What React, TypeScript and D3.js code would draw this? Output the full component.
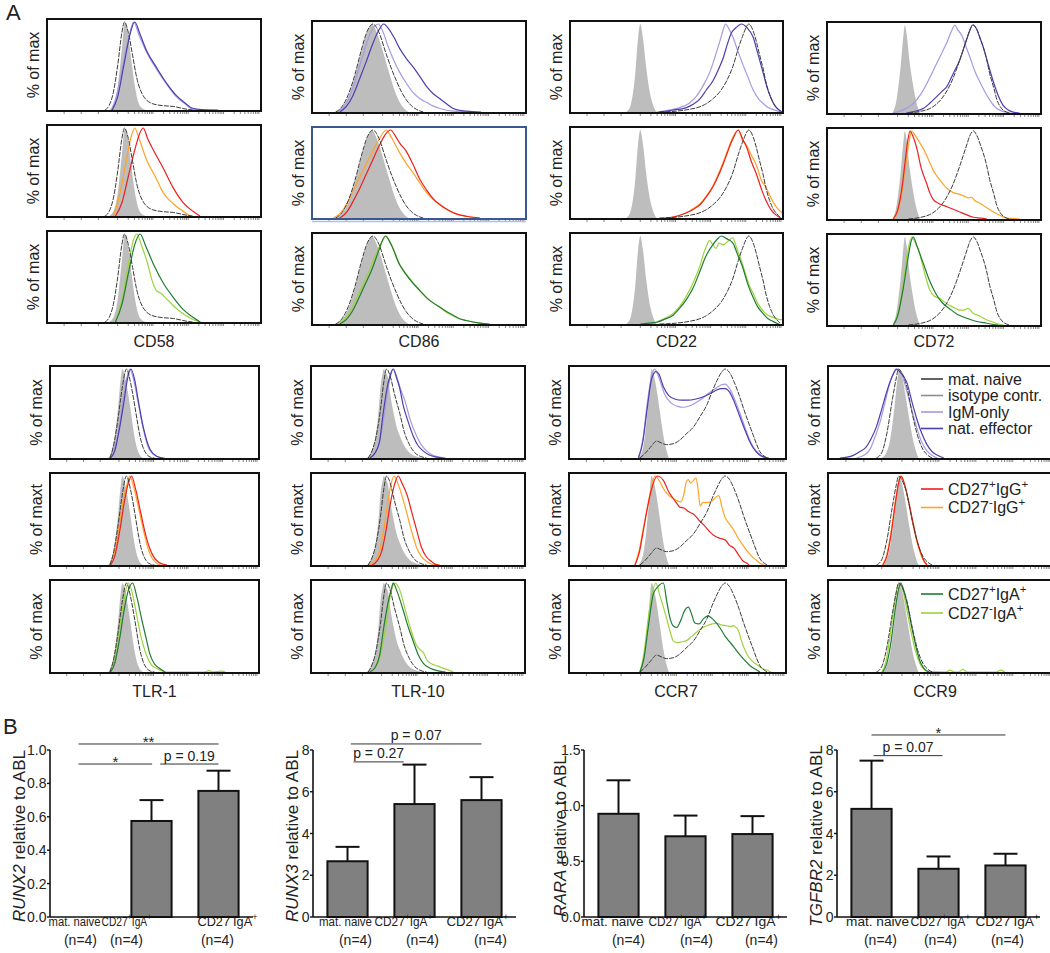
import React from 'react';
import * as d3 from 'd3';

type Pt = [number, number];

// ---------------- Panel A : categories / labels ----------------
const TOP_MARKERS = ['CD58', 'CD86', 'CD22', 'CD72'];
const BOTTOM_MARKERS = ['TLR-1', 'TLR-10', 'CCR7', 'CCR9'];
const Y_LABELS_TOP = ['% of max', '% of max', '% of max'];
const Y_LABELS_BOTTOM = ['% of max', '% of maxt', '% of max'];
const LEGEND_ROW1 = ['mat. naive', 'isotype contr.', 'IgM-only', 'nat. effector'];
const LEGEND_ROW2 = ['CD27^+IgG^+', 'CD27^-IgG^+'];
const LEGEND_ROW3 = ['CD27^+IgA^+', 'CD27^-IgA^+'];

// ---------------- Histogram curves: [x (% of panel width), y (% of max)] ----------------
const CD58_ISO: Pt[] = [[29,0],[31,5],[33,25],[35,70],[36.4,100],[38,85],[39.5,55],[41,28],[42.5,10],[44,3],[46,0]];
const CD58_NAIVE: Pt[] = [[27,0],[29,5],[31,20],[33,50],[35,88],[36.2,100],[38,88],[40,62],[41.9,37],[45,16],[49.5,7],[54,5],[59,4],[65,1],[68,0]];
const CD58_IGM: Pt[] = [[30,0],[32,12],[35,45],[38,80],[40.5,100],[43,85],[46.5,66],[51,47],[56,29],[60.5,15],[64.5,7],[68,1],[75,0]];
const CD58_NATEFF: Pt[] = [[30.5,0],[33,15],[36,52],[39,88],[41,100],[43.5,86],[46.6,67],[51,49],[56,30],[60.6,16],[64.5,8],[68,2],[72,0.5],[80,0]];
const CD58_IGG_POS: Pt[] = [[32,0],[35,15],[38,45],[41,75],[43.5,95],[45,100],[47,88],[49.7,75],[54.4,54],[59,32],[63.7,15],[68.4,5],[71.5,0]];
const CD58_IGG_NEG: Pt[] = [[31,0],[34,25],[37,62],[39.5,92],[41,100],[43,88],[46.5,64],[51,43],[53.5,30],[56,21],[59,14],[63.7,5],[67,0]];
const CD58_IGA_POS: Pt[] = [[32,0],[35,20],[38,55],[41,88],[43.5,100],[46,87],[49.7,66],[54.4,44],[59,28],[63.7,14],[68.4,5],[71.5,0]];
const CD58_IGA_NEG: Pt[] = [[32,0],[35,25],[38,65],[40.5,94],[42,100],[44,88],[46.6,70],[49,48],[51,36],[53,33],[56,26],[60.6,15],[65,7],[69,2],[72,0]];

const CD86_ISO: Pt[] = [[11,0],[14,5],[17,18],[20,40],[23,68],[26,92],[28,100],[30,92],[33,70],[36,45],[39,22],[42,7],[45,0]];
const CD86_NAIVE: Pt[] = [[11,0],[14,6],[17,20],[20,42],[23,70],[26,93],[28.5,100],[31,92],[34.8,65],[37,50],[39.5,35],[42,22],[44,14],[46.5,7],[48.8,3],[52,0]];
const CD86_IGM: Pt[] = [[12,0],[15,6],[18,20],[21,42],[24,66],[27,88],[30.9,100],[33,92],[35.5,75],[38,60],[41,45],[44,33],[47.3,22],[50.5,15],[53.5,11],[56.5,7],[59.8,4],[66,1],[75,0]];
const CD86_NATEFF: Pt[] = [[13,0],[16,6],[19,18],[22,36],[25,55],[28,75],[31,92],[33.5,100],[36,94],[38.5,84],[41,72],[44,61],[47.3,51],[50.5,40],[53.5,29],[56.5,21],[59.8,15],[63,9],[66,4],[70,1.5],[75,0.5],[79,0]];
const CD86_IGG_POS: Pt[] = [[13,0],[16,6],[19,18],[22,32],[25,48],[28,64],[31,80],[34,94],[36.7,100],[39,93],[41,85],[44,76],[47,62],[50.4,44],[53.5,32],[56.6,22],[59.8,15],[62.9,10],[67,5],[72,2],[78.5,0]];
const CD86_IGG_NEG: Pt[] = [[10,0],[13,5],[16,15],[19,30],[22,45],[25,60],[28,74],[31,88],[34.8,100],[37,92],[41,74],[44,62],[47.3,51],[50.4,40],[53.5,29],[56.6,21],[59.8,15],[63,10],[66,6],[70,3],[75,1],[78,0]];
const CD86_IGA_POS: Pt[] = [[13,0],[16,5],[19,15],[22,30],[25,46],[28,62],[31,82],[34.3,100],[37,90],[41,67],[44,56],[47.3,46],[50.4,38],[53.5,30],[56.6,24],[59.8,19],[63,14],[66,10],[69,6],[72,4],[78.5,1],[83,0]];
const CD86_IGA_NEG: Pt[] = [[12,0],[15,5],[18,15],[21,30],[24,46],[27,62],[30,80],[33,95],[34.5,100],[37,91],[41,68],[44,57],[47.3,47],[50.4,38],[53.5,30],[56.6,24],[59.8,19],[63,13],[66,9],[69,6],[72,4],[78.5,1],[82,0]];

const CD22_ISO: Pt[] = [[26.5,0],[28.5,8],[30.5,40],[32,85],[33,100],[34.2,85],[35.8,50],[37.5,22],[39,8],[40.6,0]];
const CD22_NAIVE: Pt[] = [[42,0],[50,1],[56,3],[61,6],[65,11],[68,17],[70,22],[73,33],[76.5,52],[79,72],[81,86],[84,100],[86,92],[87.5,80],[89,65],[90.6,50],[92,34],[93.7,20],[95.5,10],[97,5],[99,0]];
const CD22_IGM: Pt[] = [[40.6,0],[46,2],[51.6,5],[56,10],[59.4,18],[62.5,30],[65.6,45],[68,62],[70.3,80],[72,94],[73,100],[74.5,95],[76.5,85],[79,68],[81,55],[83.5,40],[86,25],[88.5,15],[90.6,10],[93,5],[95.3,3],[99,0]];
const CD22_NATEFF: Pt[] = [[42,0],[48,2],[54.7,5],[58,9],[61,15],[64,25],[67,35],[70,50],[72,62],[74,78],[75.8,90],[78,96],[80.5,100],[83,96],[86,85],[88,68],[90.6,45],[92.5,28],[94.5,15],[96.5,6],[98.4,2],[99.5,0]];
const CD22_IGG_POS: Pt[] = [[45,0],[50,2],[54.7,6],[58,10],[61,15],[64,24],[67,35],[70,50],[72,62],[74,75],[76.5,90],[79,100],[81,90],[83,80],[85,65],[87.5,50],[90,32],[92,20],[94.5,9],[96.9,3],[99,0]];
const CD22_IGG_NEG: Pt[] = [[44,0],[50,2],[54.7,6],[58,11],[61,16],[64,25],[67,36],[70,52],[72,64],[74,77],[76.5,92],[79,100],[81,88],[83,82],[85,72],[87.5,60],[90,42],[92,35],[94.5,22],[97,12],[99.5,6],[100,5]];
const CD22_IGA_POS: Pt[] = [[33,0],[37,1],[40.6,2],[44,5],[48.4,10],[51.5,18],[54.7,28],[58,42],[61,60],[64,78],[67,90],[69,96],[71,100],[73.5,97],[76.5,92],[78.5,80],[81,65],[83.5,45],[86,30],[88,20],[90.6,12],[93,6],[95.3,3],[98,0]];
const CD22_IGA_NEG: Pt[] = [[35,0],[40.6,2],[44,6],[48.4,12],[51.5,20],[54.7,32],[58,48],[61,66],[63,82],[64,88],[65.6,95],[67,90],[68.5,86],[70,92],[72,90],[74.5,95],[76.5,98],[78,88],[80,75],[82,60],[84,45],[86,35],[88,24],[90.6,15],[93,10],[96,7],[99,5],[100,5]];

const CD72_ISO: Pt[] = [[30.6,0],[32.5,15],[34.5,55],[35.8,90],[36.4,100],[37.2,90],[38.5,60],[40,35],[41.5,15],[43.4,0]];
const CD72_NAIVE: Pt[] = [[38,0],[44,2],[48,5],[52,12],[56,25],[59,40],[62,60],[65,82],[67,96],[68.4,100],[70,95],[72,82],[73,75],[74.5,62],[76,45],[78,28],[79.4,15],[81,7],[82.5,3],[85.6,0]];
const CD72_IGM: Pt[] = [[31,0],[35,3],[40,10],[44,22],[48,40],[51,55],[54,70],[56,80],[58,92],[59.8,100],[61,95],[63,88],[65,75],[67,62],[69,48],[71.5,35],[74,23],[76,15],[78.5,7],[81,3],[85.6,0]];
const CD72_NATEFF: Pt[] = [[37,0],[41,2],[45,5],[48,11],[51,18],[53.5,24],[56,30],[59,45],[62,60],[64.5,78],[66.5,92],[68,100],[70,95],[71.5,85],[73,75],[75,58],[77.8,35],[80,20],[82.5,8],[85,3],[87,1],[90,0]];
const CD72_IGG_POS: Pt[] = [[31,0],[33,10],[35,35],[36.5,65],[37.8,90],[38.8,100],[40,95],[42,80],[44,58],[46.6,40],[48,30],[49.7,22],[52,18],[56,14],[59,11],[62,8],[65,5],[68.4,2],[72,1],[74.7,0]];
const CD72_IGG_NEG: Pt[] = [[31,0],[33,8],[35,30],[37,65],[38.5,90],[39.5,100],[41,96],[43,88],[45,80],[47.5,67],[49.7,55],[52.5,45],[56,35],[59,30],[62,28],[64,26],[66,24],[67.5,25],[69,21],[71.5,18],[74.5,13],[77.8,8],[81,4],[84,1],[88,0.5],[90,0]];
const CD72_IGA_POS: Pt[] = [[31,0],[33,10],[35.5,40],[38,78],[39.3,95],[40.3,100],[42,90],[45,70],[48,50],[51,35],[54,25],[57.5,18],[61,12],[65,8],[70,4],[74.7,2],[78,0.5],[80,0]];
const CD72_IGA_NEG: Pt[] = [[31,0],[33,12],[35.5,45],[37.5,80],[39.5,100],[41,95],[43.4,80],[45.5,60],[48,40],[50,33],[52.8,30],[55,26],[57.5,22],[60,19],[62,17],[64,17],[66,19],[68,14],[71.5,10],[74.5,6],[77.8,3],[80,1],[82.5,0]];

const TLR1_ISO: Pt[] = [[27.9,0],[29.5,8],[31,25],[32.5,55],[33.8,88],[34.7,100],[35.8,92],[37,78],[38.5,55],[40,30],[41.5,12],[43,3],[44.5,0]];
const TLR1_NAIVE: Pt[] = [[28.7,0],[30.5,15],[32.6,45],[34.5,78],[36.6,100],[38.5,85],[40.6,58],[42,38],[43,25],[44.5,12],[46,5],[48,1],[50,0]];
const TLR1_IGM: Pt[] = [[28.5,0],[30.5,8],[32.6,28],[34.5,58],[36.6,88],[38.2,100],[40,88],[42.2,62],[44.6,33],[47,12],[49.5,4],[52,1],[55,0]];
const TLR1_NATEFF: Pt[] = [[29,0],[31,8],[33.4,35],[35.5,65],[37,88],[38.7,100],[40.5,88],[42.2,65],[44.6,35],[47.8,10],[51,2],[54,0]];
const TLR1_IGG_POS: Pt[] = [[29,0],[31,10],[33.5,40],[35.5,70],[37.5,92],[39,100],[41,85],[43.3,60],[46.2,30],[49.4,10],[52,3],[54,1],[56,0]];
const TLR1_IGG_NEG: Pt[] = [[28.5,0],[30.5,12],[33,42],[35,72],[37,92],[38.2,100],[40,88],[42,68],[44.6,40],[47,18],[49,7],[51,2],[53,0]];
const TLR1_IGA_POS: Pt[] = [[29,0],[31,10],[33.5,40],[35.5,70],[37.5,92],[39.5,100],[41.5,85],[43.8,60],[46,38],[47.8,20],[50,9],[52.5,4],[55,0]];
const TLR1_IGA_NEG: Pt[] = [[28.5,0],[30.5,12],[33,45],[35.5,82],[37.4,100],[39,92],[41.4,65],[43.5,40],[46,20],[48.5,8],[51,4],[54,1],[56,0],[74,0],[76,1.5],[78,0],[82,1],[84,0]];

const TLR10_ISO: Pt[] = [[26,0],[28,6],[30,22],[31.5,50],[32.5,80],[33.5,95],[34,100],[35,96],[36,90],[37,72],[38.5,52],[40,35],[42,22],[44,12],[46,6],[49,2],[52,0]];
const TLR10_NAIVE: Pt[] = [[26.7,0],[28.5,8],[30.5,25],[32.5,55],[34,85],[35.3,100],[37,92],[39,72],[41.5,50],[43.5,30],[46,15],[48.5,6],[51,2],[54,0]];
const TLR10_IGM: Pt[] = [[28,0],[30,6],[32,18],[34,45],[36,78],[37.5,95],[38.4,100],[40,92],[41.5,80],[43.8,65],[46.5,42],[49.3,25],[51.5,15],[54,8],[57,3],[60,1],[63,0]];
const TLR10_NATEFF: Pt[] = [[27.5,0],[30,6],[32,18],[33.7,50],[35.5,78],[37,93],[38.4,100],[40,90],[41.5,78],[43,60],[45.5,40],[47.7,25],[50,14],[52.4,8],[55.5,3],[58.7,1],[62,0]];
const TLR10_IGG_POS: Pt[] = [[28.5,0],[31,5],[33,15],[35,38],[37,68],[39,90],[40.7,100],[42.5,92],[45,78],[47,60],[49.5,38],[51.6,20],[54,9],[56.3,4],[58,1],[60,0]];
const TLR10_IGG_NEG: Pt[] = [[27.5,0],[30,5],[32,15],[34,40],[36,72],[37.5,92],[38.8,100],[40.5,92],[42.5,78],[44.6,60],[47,38],[49.3,20],[51.5,10],[54,4],[56.5,1],[59,0]];
const TLR10_IGA_POS: Pt[] = [[27.5,0],[30,5],[32,18],[34,50],[36,78],[37.5,93],[38.4,100],[40,92],[43,70],[45.5,50],[47.7,35],[50,20],[52.4,10],[55,5],[57,3],[60,1],[63,0]];
const TLR10_IGA_NEG: Pt[] = [[28,0],[30,5],[32,15],[34.5,45],[36.5,78],[38,95],[39.2,100],[41.5,92],[44.6,65],[47,45],[49.3,30],[51,25],[52.5,22],[54,14],[56.5,9],[58.7,7],[61,5],[63.3,3],[66.5,0]];

const CCR7_ISO: Pt[] = [[32,0],[34,10],[35.5,35],[37,75],[38,100],[39.2,92],[40.5,75],[42,50],[43.5,25],[45,8],[46,0]];
const CCR7_NAIVE: Pt[] = [[32.7,0],[35,5],[37.5,12],[40.4,19],[42.5,17],[45,15],[48,16],[51,20],[54,27],[57.4,35],[60.5,47],[63.6,60],[66,75],[68.2,87],[70.5,97],[72,100],[74,96],[76,86],[78.5,70],[80.5,55],[83,38],[85,25],[86.5,15],[88,7],[90,2],[91.4,0]];
const CCR7_IGM: Pt[] = [[32,0],[34,20],[36,60],[38,92],[39.5,100],[41.5,90],[44,72],[47,62],[50,58],[53,57],[56,59],[59,63],[62,68],[65,74],[68,79],[70,82],[72,83],[74,78],[76,68],[78.5,52],[81,35],[83,22],[85,12],[87.5,5],[90,1],[92,0]];
const CCR7_NATEFF: Pt[] = [[32,0],[34,18],[36,55],[38,88],[40,97],[41.5,94],[43.5,80],[46,70],[49,66],[52,65],[55,65],[58,66],[61,68],[64,71],[67,75],[70,78],[72,78],[74,74],[76,64],[78.5,48],[81,32],[83,20],[85,11],[87.5,4],[90,1],[92,0]];
const CCR7_IGG_POS: Pt[] = [[30.4,0],[32.5,15],[34,35],[35.8,60],[38,85],[40.7,100],[43.5,95],[46,82],[48,75],[50,68],[51,65],[53,64],[55,60],[57.4,57],[60,50],[62.5,44],[65,37],[67,33],[69.5,30],[72,28],[74,22],[76,19],[78,12],[80,5],[82,2],[83,0]];
const CCR7_IGG_NEG: Pt[] = [[30.4,0],[32.5,18],[34,38],[35.8,60],[38,88],[39.7,100],[41.5,95],[43.5,86],[46,78],[48,75],[50,72],[51.5,71],[53,80],[54,93],[55,96],[56,92],[57.4,95],[58.5,98],[59.5,85],[60.5,66],[61.5,70],[63,70],[65.9,72],[67.5,76],[69,78],[70.5,65],[72,53],[74,46],[76,39],[78,30],[80.5,21],[83,13],[85,8],[87,4],[88,2],[90,0]];
const CCR7_IGA_POS: Pt[] = [[32.7,0],[34.5,15],[36.5,50],[38.9,88],[41,96],[43.5,100],[45,80],[46.6,60],[48,52],[49.7,50],[51.5,58],[53.5,70],[55,73],[56.5,65],[58,55],[60,54],[62,60],[64,63],[66,60],[68,55],[70,48],[72,40],[74,34],[76,28],[78.5,20],[81,13],[83.5,7],[86,3],[88,0]];
const CCR7_IGA_NEG: Pt[] = [[32.7,0],[34.5,20],[36.5,60],[38.5,90],[40,100],[42,85],[45,60],[47,42],[48,35],[50,33],[52,34],[54,35],[56.5,40],[58.9,45],[61,49],[63.6,52],[66,54],[68,55],[70,53],[72.8,52],[74.5,51],[75.9,52],[77,50],[78,47],[79.5,35],[82,20],[84.5,12],[86.7,8],[89,4],[91.4,2],[93,0]];

const CCR9_ISO: Pt[] = [[24,0],[25.9,5],[27.7,20],[29.6,55],[31,88],[32,100],[32.9,93],[34.3,75],[36.2,45],[38,20],[39.5,6],[40.4,0]];
const CCR9_NAIVE: Pt[] = [[21.6,0],[24,6],[26.3,28],[28.7,65],[30.5,90],[31.5,100],[32.9,96],[35.2,80],[37.6,50],[40,25],[42.3,10],[44.6,3],[46.5,0]];
const CCR9_IGM: Pt[] = [[12.7,0],[16,3],[18.8,10],[21.2,25],[23.2,40],[25.4,62],[27.7,85],[29.6,96],[31,100],[32.9,94],[35.2,75],[37.6,52],[39.5,35],[41.8,18],[44.2,8],[47,2],[48.9,0]];
const CCR9_NATEFF: Pt[] = [[5.3,0],[8.5,1],[11.3,3],[14.1,7],[16.9,12],[19.3,22],[21.6,35],[24,55],[26.3,75],[28.7,92],[30.5,100],[32.4,96],[35.2,85],[37.6,62],[39.5,45],[41.8,28],[44.2,15],[46.5,7],[48.9,3],[51.7,0]];
const CCR9_IGG_POS: Pt[] = [[24.4,0],[26.3,10],[28.2,35],[30.1,70],[31.5,92],[32.5,100],[33.8,94],[35.7,75],[37.6,52],[39.5,30],[41.4,14],[42.8,5],[44.2,0]];
const CCR9_IGG_NEG: Pt[] = [[24.4,0],[26.3,12],[28.2,38],[30.1,72],[31.8,95],[32.7,100],[34,92],[35.7,74],[37.6,50],[39.5,28],[41.4,12],[42.8,4],[44.2,0]];
const CCR9_IGA_POS: Pt[] = [[24.4,0],[26.3,10],[28.2,35],[30.1,72],[31.5,93],[32.5,100],[33.8,92],[35.7,72],[37.6,48],[39.5,26],[41.4,10],[43.2,3],[45.1,0]];
const CCR9_IGA_NEG: Pt[] = [[24,0],[25.9,12],[27.7,40],[29.6,75],[31,96],[32,100],[33.4,92],[35.2,70],[37.1,45],[39,24],[40.9,10],[42.8,3],[45.1,0.5],[52.6,0],[54.5,2],[56.4,0],[58.3,0],[60.2,3],[62,0],[75.2,0],[77.1,2],[79,0]];

// ---------------- Panel B data ----------------
const BAR_CATEGORIES = ['mat. naive', 'CD27^+IgA^+', 'CD27^-IgA^+'];
const BAR_N = ['(n=4)', '(n=4)', '(n=4)'];
const RUNX2_MEAN = [0, 0.575, 0.755];
const RUNX2_SEM = [0, 0.125, 0.121];
const RUNX3_MEAN = [2.67, 5.41, 5.6];
const RUNX3_SEM = [0.69, 1.89, 1.1];
const RARA_MEAN = [0.927, 0.725, 0.745];
const RARA_SEM = [0.301, 0.186, 0.161];
const TGFBR2_MEAN = [5.18, 2.31, 2.47];
const TGFBR2_SEM = [2.31, 0.59, 0.56];
const RUNX2_TICKS = [0, 0.2, 0.4, 0.6, 0.8, 1.0];
const RUNX3_TICKS = [0, 2, 4, 6, 8];
const RARA_TICKS = [0, 0.5, 1.0, 1.5];
const TGFBR2_TICKS = [0, 2, 4, 6, 8];
const RUNX2_SIG = [
  { a: -0.09, b: 2, level: 1.036, label: '**' },
  { a: -0.09, b: 1.01, level: 0.916, label: '*' },
  { a: 1.13, b: 2, level: 0.916, label: 'p = 0.19' },
];
const RUNX3_SIG = [
  { a: 0.05, b: 2, level: 8.29, label: 'p = 0.07' },
  { a: 0.09, b: 0.84, level: 7.43, label: 'p = 0.27' },
];
const RARA_SIG: { a: number; b: number; level: number; label: string }[] = [];
const TGFBR2_SIG = [
  { a: 0, b: 2, level: 8.72, label: '*' },
  { a: 0.03, b: 1.06, level: 7.73, label: 'p = 0.07' },
];

// ---------------- styles / layout ----------------
const FONT = "'Liberation Sans', Arial, Helvetica, sans-serif";
const C_ISO = '#bdbdbd';
const C_NAIVE = '#3c3c3c';
const C_ISO_LEG = '#8c8c8c';
const C_IGM = '#a999e0';
const C_NATEFF = '#4940b0';
const C_RED = '#f01e1e';
const C_ORANGE = '#ffa326';
const C_DKGREEN = '#1f7d33';
const C_LTGREEN = '#9fd23c';

const TOP_X = [47, 312, 570, 827];
const TOP_W = [214, 214, 213, 214];
const TOP_Y = [21, 127, 233];
const TOP_DY = [-2, 0, 0, 1];
const BOT_X = [50, 311, 569, 828];
const BOT_W = [209, 214, 217, 224];
const BOT_Y = [366, 473, 580];
const PANEL_H = 93;

const HIST: Record<string, any> = {
  'CD58': { iso: CD58_ISO, naive: CD58_NAIVE, rows: [[CD58_IGM, CD58_NATEFF], [CD58_IGG_NEG, CD58_IGG_POS], [CD58_IGA_NEG, CD58_IGA_POS]] },
  'CD86': { iso: CD86_ISO, naive: CD86_NAIVE, rows: [[CD86_IGM, CD86_NATEFF], [CD86_IGG_NEG, CD86_IGG_POS], [CD86_IGA_NEG, CD86_IGA_POS]] },
  'CD22': { iso: CD22_ISO, naive: CD22_NAIVE, rows: [[CD22_IGM, CD22_NATEFF], [CD22_IGG_NEG, CD22_IGG_POS], [CD22_IGA_NEG, CD22_IGA_POS]] },
  'CD72': { iso: CD72_ISO, naive: CD72_NAIVE, rows: [[CD72_IGM, CD72_NATEFF], [CD72_IGG_NEG, CD72_IGG_POS], [CD72_IGA_NEG, CD72_IGA_POS]] },
  'TLR-1': { iso: TLR1_ISO, naive: TLR1_NAIVE, rows: [[TLR1_IGM, TLR1_NATEFF], [TLR1_IGG_NEG, TLR1_IGG_POS], [TLR1_IGA_NEG, TLR1_IGA_POS]] },
  'TLR-10': { iso: TLR10_ISO, naive: TLR10_NAIVE, rows: [[TLR10_IGM, TLR10_NATEFF], [TLR10_IGG_NEG, TLR10_IGG_POS], [TLR10_IGA_NEG, TLR10_IGA_POS]] },
  'CCR7': { iso: CCR7_ISO, naive: CCR7_NAIVE, rows: [[CCR7_IGM, CCR7_NATEFF], [CCR7_IGG_NEG, CCR7_IGG_POS], [CCR7_IGA_NEG, CCR7_IGA_POS]] },
  'CCR9': { iso: CCR9_ISO, naive: CCR9_NAIVE, rows: [[CCR9_IGM, CCR9_NATEFF], [CCR9_IGG_NEG, CCR9_IGG_POS], [CCR9_IGA_NEG, CCR9_IGA_POS]] },
};
const ROW_COLORS = [[C_IGM, C_NATEFF], [C_ORANGE, C_RED], [C_LTGREEN, C_DKGREEN]];

// axis minor ticks under histograms (positions in % of width)
const HIST_TICK_BASE = [8, 16, 24, 33];
const HIST_DECADES = [33, 49.5, 66, 82.5];

// approximate Arial advance widths (em) for label width estimation
const CHAR_W: Record<string, number> = {
  m: 0.833, a: 0.556, t: 0.278, '.': 0.278, ' ': 0.278, n: 0.556, i: 0.222, v: 0.5, e: 0.556,
  C: 0.722, D: 0.722, '2': 0.556, '7': 0.556, I: 0.278, g: 0.556, A: 0.667, '+': 0.584, '-': 0.333,
};
const SUP_SCALE = 0.72;

function parseSup(str: string) {
  const parts: { t: string; sup: boolean }[] = [];
  let buf = '';
  for (let i = 0; i < str.length; i++) {
    if (str[i] === '^') {
      if (buf) parts.push({ t: buf, sup: false });
      buf = '';
      parts.push({ t: str[i + 1], sup: true });
      i++;
    } else buf += str[i];
  }
  if (buf) parts.push({ t: buf, sup: false });
  return parts;
}

function estWidth(str: string, fs: number) {
  return parseSup(str).reduce((s, p) => s + p.t.split('').reduce((a, ch) => a + (CHAR_W[ch] ?? 0.556), 0) * fs * (p.sup ? SUP_SCALE : 1), 0);
}

function supText(str: string, fs: number, key?: string) {
  const parts = parseSup(str);
  const shift = fs * 0.42;
  let raised = false;
  return parts.map((p, i) => {
    let dy = 0;
    if (p.sup && !raised) { dy = -shift; raised = true; }
    else if (!p.sup && raised) { dy = shift; raised = false; }
    return (
      <tspan key={(key || '') + i} dy={dy} fontSize={p.sup ? fs * SUP_SCALE : fs}>{p.t}</tspan>
    );
  });
}

function Histogram(props: any) {
  const { id, x, y, w, h, iso, naive, lines, colors, ylabel, border, legend } = props;
  const xs = d3.scaleLinear().domain([0, 100]).range([x, x + w]);
  const ys = d3.scaleLinear().domain([0, 100]).range([y + h - 1, y + 3]);
  const area = d3.area<Pt>().x(d => xs(d[0])).y0(ys(0)).y1(d => ys(d[1])).curve(d3.curveMonotoneX);
  const line = d3.line<Pt>().x(d => xs(d[0])).y(d => ys(d[1])).curve(d3.curveMonotoneX);
  const ticks: number[] = [...HIST_TICK_BASE];
  HIST_DECADES.forEach(d0 => { for (let k = 2; k <= 9; k++) ticks.push(d0 + 16.5 * Math.log10(k)); });
  HIST_DECADES.forEach(d0 => ticks.push(d0 + 16.5));
  return (
    <g>
      <defs>
        <clipPath id={id}><rect x={x} y={y} width={w} height={h} /></clipPath>
      </defs>
      <g clipPath={`url(#${id})`}>
        <path d={area(iso) || ''} fill={C_ISO} stroke="none" />
        <path d={line(lines[0]) || ''} fill="none" stroke={colors[0]} strokeWidth={1.2} />
        <path d={line(lines[1]) || ''} fill="none" stroke={colors[1]} strokeWidth={1.2} />
        <path d={line(naive) || ''} fill="none" stroke={C_NAIVE} strokeWidth={1} strokeDasharray="5,1.2" />
      </g>
      {ticks.filter(t => t < 100).map((t, i) => (
        <line key={i} x1={xs(t)} x2={xs(t)} y1={y + h + 1} y2={y + h + 3} stroke="#666" strokeWidth={0.8} />
      ))}
      {border === 'blue' && (
        <line x1={x} x2={x + w} y1={y + h + 2.5} y2={y + h + 2.5} stroke="#a9c3e6" strokeWidth={1.5} />
      )}
      <rect x={x} y={y} width={w} height={h} fill="none" stroke={border === 'blue' ? '#3a5790' : '#111'} strokeWidth={2} />
      <text transform={`translate(${x - 8},${y + h / 2}) rotate(-90)`} textAnchor="middle" fontSize={16} fontFamily={FONT} fill="#222">{ylabel}</text>
      {legend && legend.map((l: any, i: number) => (
        <g key={i}>
          <line x1={921} x2={943} y1={l.y} y2={l.y} stroke={l.color} strokeWidth={1.6} />
          <text x={948} y={l.y + 5.5} fontSize={16} fontFamily={FONT} fill="#222">{supText(l.label, 16, 'lg' + i)}</text>
        </g>
      ))}
    </g>
  );
}

function BarChart(props: any) {
  const { x0, gene, means, sems, ticks, fmt, max, sig, titleX, lab1, lab2, labW } = props;
  const xb = d3.scaleBand().domain(BAR_CATEGORIES).range([x0, x0 + 203]).paddingInner(0.4).paddingOuter(0.215);
  const yb = d3.scaleLinear().domain([0, max]).range([917, 750]);
  const bw = xb.bandwidth();
  const step = xb.step();
  const c0 = (xb(BAR_CATEGORIES[0]) as number) + bw / 2;
  const LFS = 13.5;
  return (
    <g fontFamily={FONT} fill="#222">
      {BAR_CATEGORIES.map((c, i) => {
        const bx = xb(c) as number;
        const cx = bx + bw / 2;
        const m = means[i];
        const e = sems[i];
        const sx = labW[i] / estWidth(c, LFS);
        return (
          <g key={c}>
            {m > 0 && <rect x={bx} y={yb(m)} width={bw} height={yb(0) - yb(m)} fill="#808080" stroke="#111" strokeWidth={2} />}
            {e > 0 && <line x1={cx} x2={cx} y1={yb(m)} y2={yb(m + e)} stroke="#111" strokeWidth={2} />}
            {e > 0 && <line x1={cx - 12} x2={cx + 12} y1={yb(m + e)} y2={yb(m + e)} stroke="#111" strokeWidth={2} />}
            <g transform={`translate(${cx + lab1[i]},926) scale(${sx},1)`}>
              <text x={0} y={0} textAnchor="middle" fontSize={LFS}>{supText(c, LFS, 'c' + i)}</text>
            </g>
            <text x={cx + lab2[i]} y={945} textAnchor="middle" fontSize={14}>{BAR_N[i]}</text>
          </g>
        );
      })}
      <line x1={x0} x2={x0} y1={yb(max)} y2={yb(0)} stroke="#111" strokeWidth={1.6} />
      <line x1={x0} x2={x0 + 203} y1={yb(0)} y2={yb(0)} stroke="#111" strokeWidth={1.6} />
      {ticks.map((t: number) => (
        <g key={t}>
          <line x1={x0 - 3} x2={x0} y1={yb(t)} y2={yb(t)} stroke="#111" strokeWidth={1.4} />
          <text x={x0 - 3.5} y={yb(t) + 5} textAnchor="end" fontSize={14}>{fmt(t)}</text>
        </g>
      ))}
      <text transform={`translate(${titleX + 6},836) rotate(-90)`} textAnchor="middle" fontSize={17}>
        <tspan fontStyle="italic">{gene}</tspan>
        <tspan> relative to ABL</tspan>
      </text>
      {sig.map((s: any, i: number) => {
        const xa = c0 + s.a * step;
        const xe = c0 + s.b * step;
        const ly = yb(s.level);
        const star = s.label.startsWith('*');
        return (
          <g key={i}>
            <line x1={xa} x2={xe} y1={ly} y2={ly} stroke="#333" strokeWidth={1} />
            <text x={(xa + xe) / 2} y={star ? ly + 3 : ly - 3.5} textAnchor="middle" fontSize={star ? 15 : 14}>{s.label}</text>
          </g>
        );
      })}
    </g>
  );
}

export default function App() {
  const panels: any[] = [];
  TOP_MARKERS.forEach((m, ci) => {
    [0, 1, 2].forEach(r => {
      panels.push({
        id: `clip-t-${ci}-${r}`,
        x: TOP_X[ci], y: TOP_Y[r] + TOP_DY[ci], w: TOP_W[ci], h: PANEL_H - 1,
        iso: HIST[m].iso, naive: HIST[m].naive, lines: HIST[m].rows[r], colors: ROW_COLORS[r],
        ylabel: Y_LABELS_TOP[r], border: ci === 1 && r === 1 ? 'blue' : 'black',
      });
    });
  });
  BOTTOM_MARKERS.forEach((m, ci) => {
    [0, 1, 2].forEach(r => {
      let legend: any = null;
      if (ci === 3) {
        if (r === 0) legend = LEGEND_ROW1.map((l, i) => ({ label: l, y: 379 + i * 16.5, color: [C_NAIVE, C_ISO_LEG, C_IGM, C_NATEFF][i] }));
        if (r === 1) legend = LEGEND_ROW2.map((l, i) => ({ label: l, y: 489 + i * 18.5, color: [C_RED, C_ORANGE][i] }));
        if (r === 2) legend = LEGEND_ROW3.map((l, i) => ({ label: l, y: 594 + i * 19, color: [C_DKGREEN, C_LTGREEN][i] }));
      }
      panels.push({
        id: `clip-b-${ci}-${r}`,
        x: BOT_X[ci], y: BOT_Y[r], w: BOT_W[ci], h: PANEL_H,
        iso: HIST[m].iso, naive: HIST[m].naive, lines: HIST[m].rows[r], colors: ROW_COLORS[r],
        ylabel: Y_LABELS_BOTTOM[r], border: 'black', legend,
      });
    });
  });

  const f1 = (v: number) => d3.format('.1f')(v);
  const f0 = (v: number) => d3.format('d')(v);

  return (
    <svg width={1050} height={953} style={{ position: 'absolute', left: 0, top: 0, background: '#fff' }} fontFamily={FONT}>
      <rect x={0} y={0} width={1050} height={953} fill="#fff" />
      <text x={6} y={20} fontSize={22} fontFamily={FONT} fill="#222">A</text>
      <text x={3} y={734} fontSize={22} fontFamily={FONT} fill="#222">B</text>
      {panels.map(p => <Histogram key={p.id} {...p} />)}
      {TOP_MARKERS.map((m, ci) => (
        <text key={m} x={TOP_X[ci] + TOP_W[ci] / 2} y={347} textAnchor="middle" fontSize={16} fontFamily={FONT} fill="#222">{m}</text>
      ))}
      {BOTTOM_MARKERS.map((m, ci) => (
        <text key={m} x={BOT_X[ci] + Math.min(BOT_W[ci], 214) / 2} y={697} textAnchor="middle" fontSize={16} fontFamily={FONT} fill="#222">{m}</text>
      ))}
      <BarChart x0={50} gene="RUNX2" means={RUNX2_MEAN} sems={RUNX2_SEM} ticks={RUNX2_TICKS} fmt={f1} max={1.0} sig={RUNX2_SIG} titleX={19} lab1={[-10, -25, 9]} lab2={[-4, -25, -1]} labW={[52, 50, 60]} />
      <BarChart x0={313} gene="RUNX3" means={RUNX3_MEAN} sems={RUNX3_SEM} ticks={RUNX3_TICKS} fmt={f0} max={8} sig={RUNX3_SIG} titleX={292} lab1={[-2, -11, -4]} lab2={[8, 8, 9]} labW={[53, 58, 62]} />
      <BarChart x0={584} gene="RARA" means={RARA_MEAN} sems={RARA_SEM} ticks={RARA_TICKS} fmt={f1} max={1.5} sig={RARA_SIG} titleX={560} lab1={[-6, -8, -4]} lab2={[10, 11, 9]} labW={[62, 58, 66]} />
      <BarChart x0={837} gene="TGFBR2" means={TGFBR2_MEAN} sems={TGFBR2_SEM} ticks={TGFBR2_TICKS} fmt={f0} max={8} sig={TGFBR2_SIG} titleX={816} lab1={[6, 2, 2]} lab2={[9, 2, 2]} labW={[63, 60, 64]} />
    </svg>
  );
}
